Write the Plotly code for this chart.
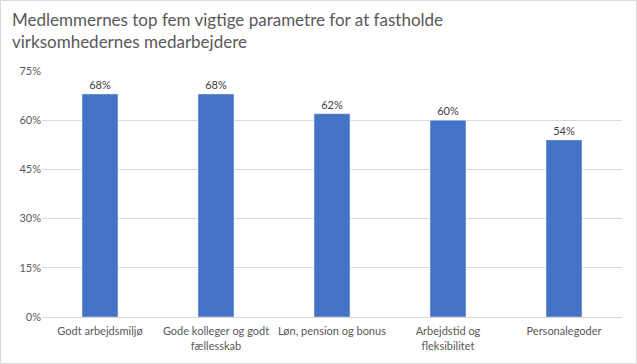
import plotly.graph_objects as go

categories = ["Godt arbejdsmiljø", "Gode kolleger og godt<br>fællesskab", "Løn, pension og bonus",
              "Arbejdstid og<br>fleksibilitet", "Personalegoder"]
values = [0.68, 0.68, 0.62, 0.60, 0.54]
tick_vals = [0, 0.15, 0.30, 0.45, 0.60, 0.75]
tick_text = ["0%", "15%", "30%", "45%", "60%", "75%"]

W, H = 637, 364
L, R, T, B = 42, 15, 71, 47
pw, ph = W - L - R, H - T - B

fig = go.Figure(go.Bar(
    x=categories, y=values, marker_color="#4472C4", width=0.31,
    text=[f"{round(v*100)}%" for v in values], textposition="outside",
    textfont=dict(size=11, color="#404040"), cliponaxis=False,
))

fig.update_layout(
    width=W, height=H, margin=dict(l=L, r=R, t=T, b=B, autoexpand=False),
    paper_bgcolor="white", plot_bgcolor="white",
    font=dict(family="Lato, sans-serif", color="#595959", size=11),
    showlegend=False,
    xaxis=dict(showgrid=False, showline=True, linecolor="#d9d9d9", ticks="",
               ticklabelstandoff=4,
               tickfont=dict(size=11, color="#595959")),
    yaxis=dict(range=[0, 0.75], tickvals=tick_vals, ticktext=tick_text,
               showgrid=True, gridcolor="#d9d9d9", zeroline=False, ticks="",
               tickfont=dict(size=11, color="#595959"), showline=False),
    annotations=[dict(
        text="Medlemmernes top fem vigtige parametre for at fastholde<br>virksomhedernes medarbejdere",
        xref="paper", yref="paper", x=(10 - L) / pw, y=(ph + T - 7) / ph,
        xanchor="left", yanchor="top", showarrow=False, align="left",
        font=dict(size=17, color="#595959", family="Lato, sans-serif"),
    )],
    shapes=[dict(type="rect", xref="paper", yref="paper",
                 x0=(0.5 - L) / pw, x1=(W - 0.5 - L) / pw,
                 y0=(T + ph - (H - 0.5)) / ph, y1=(T + ph - 0.5) / ph,
                 line=dict(color="#d9d9d9", width=1), fillcolor="rgba(0,0,0,0)")],
)

fig.write_html("out.html", config={"displayModeBar": False},
               post_script="document.body.style.margin='0';document.body.style.overflow='hidden';")
